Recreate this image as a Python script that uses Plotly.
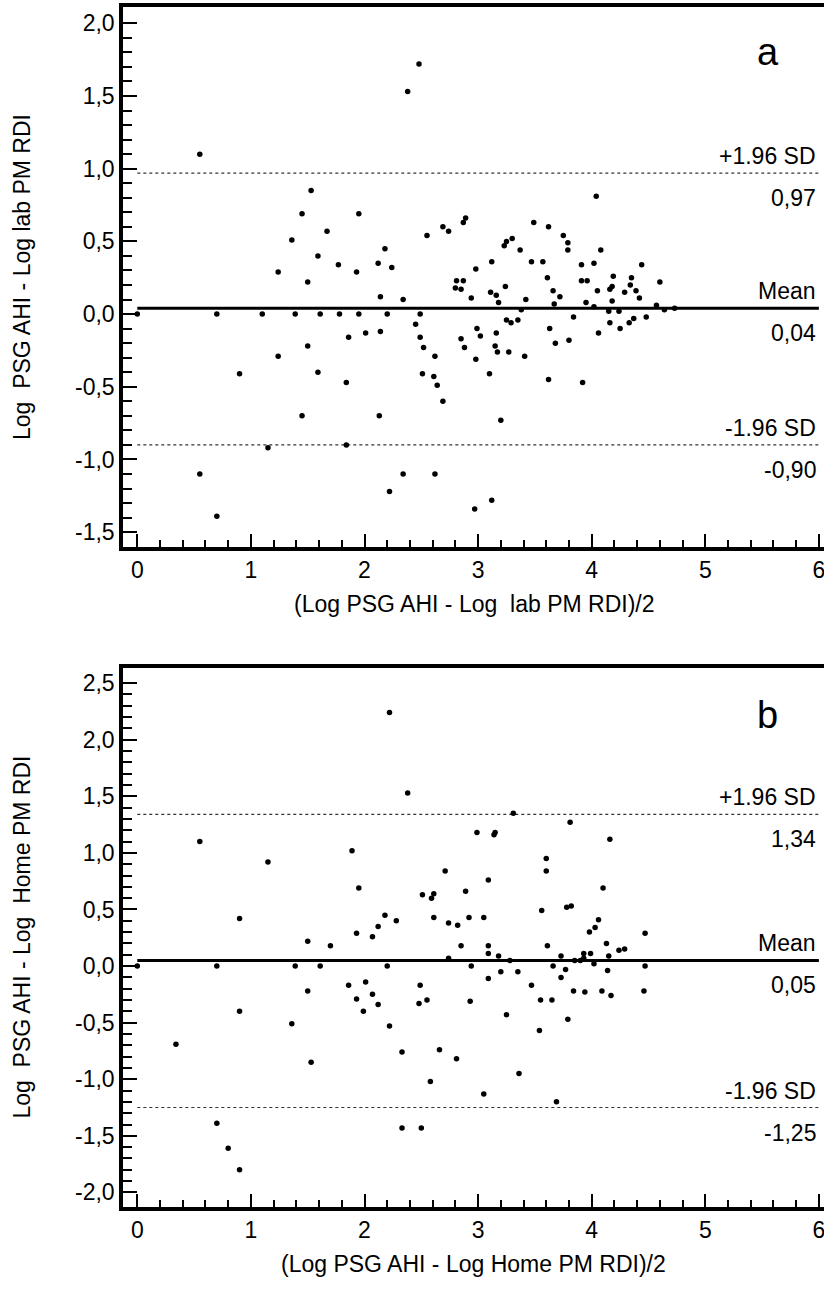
import plotly.graph_objects as go

# ---------------- data ----------------
a_x = [0.55, 2.38, 2.48, 1.53, 1.45, 1.95, 1.36, 1.67, 1.59, 1.77, 1.24, 1.93, 2.12, 2.18, 2.24, 2.55, 2.69, 2.74,
       0.00, 1.50, 2.14, 2.34, 0.70, 1.10, 1.39, 1.61, 1.78, 1.95, 2.20, 2.49, 2.45, 2.01, 2.14, 1.86, 2.49, 2.52,
       1.50, 1.24, 2.62, 0.90, 1.59, 2.51, 2.61, 1.84, 2.64, 2.69, 1.45, 2.13, 1.15, 1.84, 0.55, 2.34, 2.62, 2.22, 0.70,
       2.98, 3.12, 3.47, 3.57, 3.91, 4.02, 4.44, 2.81, 2.87, 2.80, 2.85, 2.94, 3.11, 3.16, 3.24, 3.18, 3.42, 3.38,
       3.61, 3.66, 3.72, 3.67, 3.91, 3.96, 4.05, 3.95, 4.02, 4.19, 4.35, 4.16, 4.18, 4.29, 4.34, 4.39, 4.42, 4.60,
       4.18, 4.15, 4.24, 4.57, 4.64, 4.73, 3.25, 3.29, 3.35, 2.99, 3.02, 3.16, 2.85, 2.88, 3.15, 3.17, 3.27, 3.41,
       2.98, 3.10, 3.63, 3.68, 3.80, 3.84, 4.06, 4.16, 4.25, 4.33, 4.37, 4.48, 3.62, 3.92, 3.20, 2.97, 3.12,
       4.04, 2.87, 2.89, 3.49, 3.62, 3.75, 3.79, 3.79, 4.08, 3.23, 3.25, 3.30, 3.37]
a_y = [1.10, 1.53, 1.72, 0.85, 0.69, 0.69, 0.51, 0.57, 0.40, 0.34, 0.29, 0.29, 0.35, 0.45, 0.32, 0.54, 0.60, 0.57,
       0.00, 0.22, 0.12, 0.10, 0.00, 0.00, 0.00, 0.00, 0.00, 0.00, 0.00, 0.00, -0.07, -0.13, -0.12, -0.16, -0.16, -0.23,
       -0.22, -0.29, -0.29, -0.41, -0.40, -0.41, -0.43, -0.47, -0.49, -0.60, -0.70, -0.70, -0.92, -0.90, -1.10, -1.10, -1.10, -1.22, -1.39,
       0.31, 0.36, 0.36, 0.36, 0.34, 0.35, 0.34, 0.23, 0.23, 0.18, 0.17, 0.11, 0.15, 0.13, 0.19, 0.08, 0.10, 0.03,
       0.25, 0.16, 0.12, 0.07, 0.23, 0.23, 0.16, 0.08, 0.05, 0.26, 0.25, 0.17, 0.19, 0.15, 0.20, 0.16, 0.11, 0.22,
       0.09, 0.02, 0.02, 0.06, 0.03, 0.04, -0.04, -0.06, -0.04, -0.10, -0.15, -0.13, -0.17, -0.23, -0.22, -0.26, -0.26, -0.29,
       -0.31, -0.41, -0.10, -0.20, -0.18, -0.02, -0.13, -0.06, -0.10, -0.06, -0.03, -0.02, -0.45, -0.47, -0.73, -1.34, -1.28,
       0.81, 0.63, 0.66, 0.63, 0.60, 0.54, 0.49, 0.44, 0.44, 0.47, 0.50, 0.52, 0.44]

b_x = [2.22, 2.38, 0.55, 1.15, 1.89, 1.95, 2.71, 2.51, 2.59, 2.61, 2.61, 2.74, 0.90, 2.18, 2.28, 2.12, 1.93, 2.07, 1.50,
       0.00, 0.70, 1.39, 1.61, 2.20, 1.70, 2.74, 1.86, 2.01, 1.93, 2.07, 2.12, 1.99, 1.50, 0.90, 1.36, 2.22, 0.34,
       1.53, 2.33, 2.66, 2.49, 2.48, 2.55, 2.58, 0.70, 0.80, 0.90, 2.33, 2.50,
       3.31, 3.81, 2.99, 3.14, 3.15, 4.16, 3.60, 3.60, 3.09, 2.89, 4.10, 2.82, 2.92, 3.05, 3.56, 3.78, 3.82, 4.06,
       4.03, 3.98, 4.47,
       2.85, 3.09, 3.09, 3.18, 3.61, 3.73, 4.13, 4.15, 4.24, 4.29, 3.93, 3.99, 3.93, 3.90, 3.85, 3.28, 2.94, 3.66,
       4.02, 4.47, 3.20, 3.35, 3.77, 4.14, 3.09, 3.73, 3.47, 3.84, 3.94, 4.09, 4.17, 4.46, 2.93, 3.55, 3.65, 3.25,
       3.79, 3.54, 2.81, 3.36, 3.05, 3.69]
b_y = [2.24, 1.53, 1.10, 0.92, 1.02, 0.69, 0.84, 0.63, 0.60, 0.64, 0.43, 0.38, 0.42, 0.45, 0.40, 0.35, 0.29, 0.26, 0.22,
       0.00, 0.00, 0.00, 0.00, 0.00, 0.18, 0.07, -0.17, -0.14, -0.29, -0.25, -0.34, -0.40, -0.22, -0.40, -0.51, -0.53, -0.69,
       -0.85, -0.76, -0.74, -0.17, -0.33, -0.30, -1.02, -1.39, -1.61, -1.80, -1.43, -1.43,
       1.35, 1.27, 1.18, 1.16, 1.18, 1.12, 0.95, 0.84, 0.76, 0.66, 0.69, 0.36, 0.43, 0.43, 0.49, 0.52, 0.53, 0.41,
       0.34, 0.30, 0.29,
       0.18, 0.18, 0.11, 0.09, 0.18, 0.09, 0.20, 0.09, 0.14, 0.15, 0.11, 0.11, 0.07, 0.05, 0.05, 0.05, 0.00, 0.00,
       0.02, 0.00, -0.05, -0.05, -0.03, -0.04, -0.11, -0.10, -0.17, -0.22, -0.23, -0.22, -0.26, -0.22, -0.31, -0.30, -0.30, -0.43,
       -0.47, -0.57, -0.82, -0.95, -1.13, -1.20]

a_mean, a_upper, a_lower = 0.04, 0.97, -0.90
b_mean, b_upper, b_lower = 0.05, 1.34, -1.25

x_ticks = [0, 1, 2, 3, 4, 5, 6]
a_yticks = [-1.5, -1.0, -0.5, 0.0, 0.5, 1.0, 1.5, 2.0]
a_yticktext = ["-1,5", "-1,0", "-0,5", "0,0", "0,5", "1,0", "1,5", "2,0"]
b_yticks = [-2.0, -1.5, -1.0, -0.5, 0.0, 0.5, 1.0, 1.5, 2.0, 2.5]
b_yticktext = ["-2,0", "-1,5", "-1,0", "-0,5", "0,0", "0,5", "1,0", "1,5", "2,0", "2,5"]

a_xtitle = "(Log PSG AHI - Log\u00a0\u00a0lab PM RDI)/2"
a_ytitle = "Log\u00a0\u00a0PSG AHI - Log lab PM RDI"
b_xtitle = "(Log PSG AHI - Log Home PM RDI)/2"
b_ytitle = "Log\u00a0\u00a0PSG AHI - Log\u00a0\u00a0Home PM RDI"

FONT = "Liberation Sans, Arial, Helvetica, sans-serif"
FS = 23

fig = go.Figure()

panels = [
    ("x", "y", a_x, a_y, a_mean, a_upper, a_lower),
    ("x2", "y2", b_x, b_y, b_mean, b_upper, b_lower),
]
for xa, ya, xs, ys, m, up, lo in panels:
    fig.add_trace(go.Scatter(x=[0, 6], y=[up, up], mode="lines", xaxis=xa, yaxis=ya,
                             line=dict(color="#333", width=1.2, dash="3px,3px"), showlegend=False, hoverinfo="skip"))
    fig.add_trace(go.Scatter(x=[0, 6], y=[lo, lo], mode="lines", xaxis=xa, yaxis=ya,
                             line=dict(color="#333", width=1.2, dash="3px,3px"), showlegend=False, hoverinfo="skip"))
    fig.add_trace(go.Scatter(x=[0, 6], y=[m, m], mode="lines", xaxis=xa, yaxis=ya,
                             line=dict(color="black", width=3), showlegend=False, hoverinfo="skip"))
    fig.add_trace(go.Scatter(x=xs, y=ys, mode="markers", xaxis=xa, yaxis=ya,
                             marker=dict(color="black", size=5.5, line=dict(width=0)), showlegend=False))

def xaxis_cfg(anchor):
    return dict(
        anchor=anchor, range=[-0.126, 6.045], domain=[0, 1],
        tickvals=x_ticks, ticktext=[str(v) for v in x_ticks],
        ticks="inside", ticklen=13, tickwidth=2, tickcolor="black",
        ticklabeloverflow="allow",
        minor=dict(tickvals=[round(i * 0.2, 1) for i in range(31) if i % 5 != 0],
                   ticks="inside", ticklen=7, tickwidth=2, tickcolor="black"),
        showline=True, linewidth=3.5, linecolor="black", mirror=True,
        showgrid=False, zeroline=False,
        tickfont=dict(family=FONT, size=FS, color="black"),
    )

def yaxis_cfg(anchor, rng, dom, tv, tt, minor_vals):
    return dict(
        anchor=anchor, range=rng, domain=dom,
        tickvals=tv, ticktext=tt,
        ticks="inside", ticklen=14, tickwidth=2, tickcolor="black",
        minor=dict(tickvals=minor_vals, ticks="inside", ticklen=9, tickwidth=2, tickcolor="black"),
        showline=True, linewidth=3.5, linecolor="black",
        showgrid=False, zeroline=False,
        tickfont=dict(family=FONT, size=FS, color="black"),
    )

a_minor = [round(-1.5 + 0.1 * i, 1) for i in range(36) if i % 5 != 0]
b_minor = [round(-2.0 + 0.1 * i, 1) for i in range(46) if i % 5 != 0]

fig.update_layout(
    width=824, height=1296,
    margin=dict(l=123, r=0, t=7, b=89),
    paper_bgcolor="white", plot_bgcolor="white",
    font=dict(family=FONT, size=FS, color="black"),
    xaxis=xaxis_cfg("y"),
    yaxis=yaxis_cfg("x", [-1.602, 2.112], [0.55, 1.0], a_yticks, a_yticktext, a_minor),
    xaxis2=xaxis_cfg("y2"),
    yaxis2=yaxis_cfg("x2", [-2.129, 2.632], [0.0, 0.449], b_yticks, b_yticktext, b_minor),
)

anns = []
for xr, yr, m, up, lo, xt, yt, letter, ly in [
    ("x", "y", a_mean, a_upper, a_lower, a_xtitle, a_ytitle, "a", 1.80),
    ("x2", "y2", b_mean, b_upper, b_lower, b_xtitle, b_ytitle, "b", 2.22),
]:
    for val, lab in [(up, "+1.96 SD"), (m, "Mean"), (lo, "-1.96 SD")]:
        anns.append(dict(xref=xr, yref=yr, x=5.99, y=val, text=lab, showarrow=False,
                         xanchor="right", yanchor="middle", yshift=17,
                         font=dict(family=FONT, size=FS, color="black")))
        anns.append(dict(xref=xr, yref=yr, x=5.99, y=val,
                         text=f"{val:.2f}".replace(".", ","), showarrow=False,
                         xanchor="right", yanchor="middle", yshift=-25,
                         font=dict(family=FONT, size=FS, color="black")))
    anns.append(dict(xref=xr, yref=yr, x=5.55, y=ly, text=letter, showarrow=False,
                     xanchor="center", yanchor="middle",
                     font=dict(family=FONT, size=38, color="black")))
    anns.append(dict(xref=xr + " domain", yref=yr + " domain", x=0.5, y=0, yshift=-57,
                     text=xt, showarrow=False, xanchor="center", yanchor="middle",
                     font=dict(family=FONT, size=FS, color="black")))
    anns.append(dict(xref="paper", yref=yr + " domain", x=0, xshift=-101, y=0.5,
                     text=yt, textangle=-90, showarrow=False, xanchor="center", yanchor="middle",
                     font=dict(family=FONT, size=FS, color="black")))

fig.update_layout(annotations=anns)
fig.write_html("out.html", config={"displayModeBar": False},
               post_script="document.body.style.margin='0';document.body.style.overflow='hidden';")
